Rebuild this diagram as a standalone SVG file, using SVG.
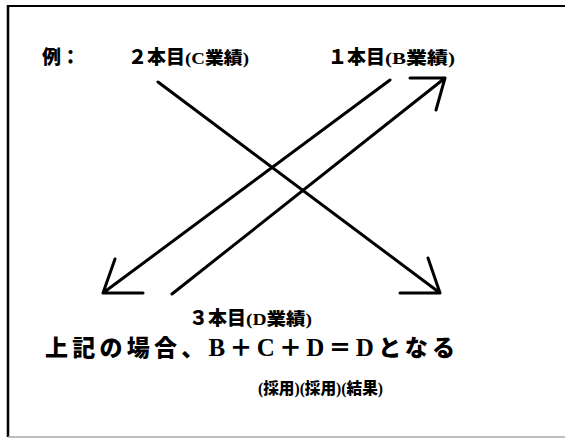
<svg xmlns="http://www.w3.org/2000/svg" width="565" height="440" viewBox="0 0 565 440">
<defs>
<style>
.t{font-family:"Liberation Serif","Noto Sans CJK JP",serif;font-weight:900;fill:#000}
.ln{stroke:#000;stroke-width:3;fill:none;stroke-linecap:round;stroke-linejoin:round}
</style>
</defs>
<rect width="565" height="440" fill="#fff"/>
<g id="frame">
<line x1="8" y1="6" x2="565" y2="6" stroke="#000" stroke-width="2"/>
<line x1="8" y1="5" x2="8" y2="437" stroke="#000" stroke-width="2.5"/>
<line x1="8" y1="437" x2="565" y2="437" stroke="#aaa" stroke-width="1.5"/>
</g>
<g id="label-example"><text class="t" x="42" y="64" font-size="19">例：</text></g>
<g id="node-2"><text class="t" x="128" y="64" font-size="19">２本目<tspan font-size="17" textLength="64" lengthAdjust="spacingAndGlyphs">(C業績)</tspan></text></g>
<g id="node-1"><text class="t" x="328" y="64" font-size="19">１本目<tspan font-size="17" textLength="70" lengthAdjust="spacingAndGlyphs">(B業績)</tspan></text></g>
<g id="node-3"><text class="t" x="189" y="325" font-size="19">３本目<tspan font-size="17" textLength="66" lengthAdjust="spacingAndGlyphs">(D業績)</tspan></text></g>
<g id="formula"><text class="t" x="45" y="356" font-size="23" textLength="410" lengthAdjust="spacing">上記の場合、<tspan font-size="25">B</tspan>＋<tspan font-size="25">C</tspan>＋<tspan font-size="25">D</tspan>＝<tspan font-size="25">D</tspan>となる</text></g>
<g id="notes"><text class="t" x="258" y="394" font-size="16" textLength="125" lengthAdjust="spacingAndGlyphs">(採用)(採用)(結果)</text></g>
<g id="connectors">
<path class="ln" d="M158 82 L440 293 M428 258 L440 293 L400 293"/>
<path class="ln" d="M390 80 L103 293 M115 259 L103 293 L143 293"/>
<path class="ln" d="M172 294 L445 78 M410 78 L445 78 L436 110"/>
</g>
</svg>
